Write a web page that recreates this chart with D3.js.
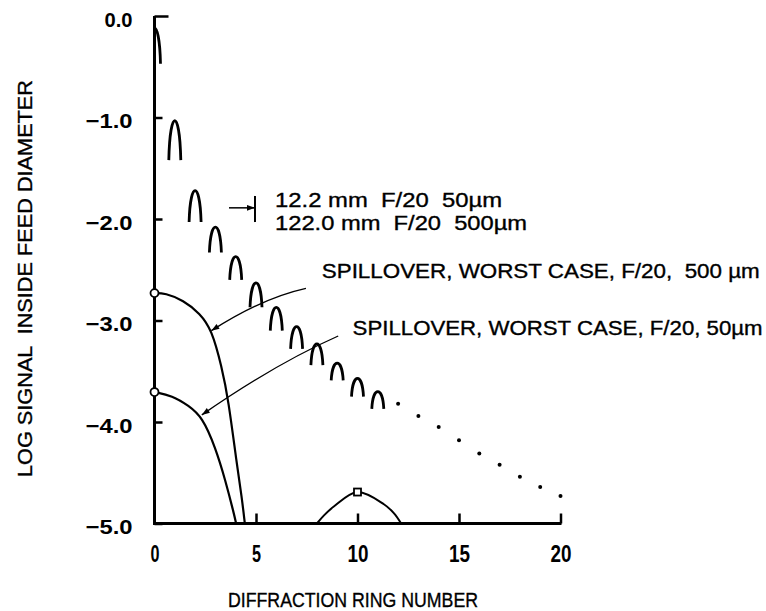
<!DOCTYPE html>
<html>
<head>
<meta charset="utf-8">
<script src="https://cdn.jsdelivr.net/npm/d3@7"></script>
<style>
  body { margin: 0; background: #fff; }
  svg { display: block; }
  .tick text { font-family: "Liberation Sans Narrow", "Liberation Sans", sans-serif; font-weight: bold; fill: #000; }
  .note { font-family: "Liberation Sans", Arial, sans-serif; fill: #000; stroke: #000; stroke-width: 0.35; white-space: pre; }
</style>
</head>
<body>
<svg width="766" height="611"></svg>
<script>
// diffraction ring peaks (drawn as little arches)
var ringNumbers = [0, 1, 2, 3, 4, 5, 6, 7, 8, 9, 10, 11]
var ringPeaks = [-0.12, -1.03, -1.72, -2.08, -2.37, -2.63, -2.87, -3.06, -3.23, -3.42, -3.57, -3.70]
var ringDepths = [0.35, 0.39, 0.31, 0.25, 0.23, 0.24, 0.23, 0.22, 0.21, 0.17, 0.18, 0.17]

// continuation shown as dots
var dotRings = [12, 13, 14, 15, 16, 17, 18, 19, 20]
var dotValues = [-3.82, -3.94, -4.05, -4.18, -4.31, -4.42, -4.54, -4.64, -4.73]

// spillover curves
var spill500X = [0, 0.52, 1.42, 2.24, 2.82, 3.31, 3.64, 4.05, 4.30, 4.45]
var spill500Y = [-2.73, -2.73, -2.80, -2.93, -3.09, -3.455, -3.78, -4.41, -4.74, -5.0]
var spill50X = [0, 0.87, 1.69, 2.35, 3.0, 3.5, 3.91, 4.02]
var spill50Y = [-3.705, -3.74, -3.84, -3.95, -4.25, -4.58, -4.90, -5.0]

// side lobe near the floor
var lobeX = [8, 8.35, 8.85, 10, 11.3, 11.8, 12.15]
var lobeY = [-5, -4.92, -4.83, -4.69, -4.81, -4.90, -5]

var xTicks = [0, 5, 10, 15, 20]
var yTicks = [0, -1, -2, -3, -4, -5]

var svg = d3.select("svg")

var x = d3.scaleLinear().domain([0, 20]).range([154.5, 560.5])
var y = d3.scaleLinear().domain([-5, 0]).range([523.5, 16])

svg.append("defs").append("clipPath").attr("id", "plotclip")
  .append("rect").attr("x", x(0)).attr("y", 0).attr("width", 600).attr("height", 611)

var arrow = svg.select("defs").append("marker")
  .attr("id", "arrow")
  .attr("markerUnits", "userSpaceOnUse")
  .attr("viewBox", "0 0 10 10")
  .attr("refX", 10).attr("refY", 5)
  .attr("markerWidth", 10).attr("markerHeight", 8)
  .attr("orient", "auto")
arrow.append("path").attr("d", "M0,1.5 L10,5 L0,8.5 Z").attr("fill", "#000")

// axes
var yAxis = d3.axisLeft(y)
  .tickValues(yTicks)
  .tickFormat(d3.format(".1f"))
  .tickSize(-8)
  .tickPadding(22)

var gy = svg.append("g").attr("transform", "translate(" + x(0) + ",0)").call(yAxis)
gy.select(".domain").remove()
gy.selectAll(".tick line").attr("stroke", "#000").attr("stroke-width", 2.5)
  .attr("x2", function(d) { return d === 0 ? 14 : 8 })
gy.selectAll(".tick text")
  .attr("font-size", 20)
  .attr("dy", "0.5em")
  .attr("textLength", function(d) { return d === 0 ? 28 : 47 })
  .attr("lengthAdjust", "spacingAndGlyphs")

var xAxis = d3.axisBottom(x)
  .tickValues(xTicks)
  .tickFormat(d3.format("d"))
  .tickSize(-10)
  .tickPadding(22)

var gx = svg.append("g").attr("transform", "translate(0," + y(-5) + ")").call(xAxis)
gx.select(".domain").remove()
gx.selectAll(".tick line").attr("stroke", "#000").attr("stroke-width", 2.5)
  .attr("display", function(d) { return d === 0 ? "none" : null })
gx.selectAll(".tick text")
  .attr("font-size", 23)
  .attr("textLength", function(d) { return d < 10 ? 9 : 21 })
  .attr("lengthAdjust", "spacingAndGlyphs")

svg.append("line")
  .attr("x1", x(0)).attr("x2", x(0)).attr("y1", y(0)).attr("y2", y(-5) + 1.5)
  .attr("stroke", "#000").attr("stroke-width", 3)
svg.append("line")
  .attr("x1", x(0) - 1.5).attr("x2", x(20) + 1).attr("y1", y(-5)).attr("y2", y(-5))
  .attr("stroke", "#000").attr("stroke-width", 3)

// axis titles
svg.append("text").attr("class", "note")
  .attr("x", 353).attr("y", 607)
  .attr("text-anchor", "middle")
  .attr("font-size", 20)
  .attr("textLength", 250).attr("lengthAdjust", "spacingAndGlyphs")
  .text("DIFFRACTION RING NUMBER")

svg.append("text").attr("class", "note")
  .attr("transform", "translate(32,278.5) rotate(-90)")
  .attr("text-anchor", "middle")
  .attr("font-size", 21)
  .attr("textLength", 397).attr("lengthAdjust", "spacingAndGlyphs")
  .text("LOG SIGNAL  INSIDE FEED DIAMETER")

// ring arches
var hw = 6
svg.append("g").attr("clip-path", "url(#plotclip)")
  .selectAll("path")
  .data(ringNumbers)
  .enter().append("path")
  .attr("d", function(n, i) {
    var cx = x(n), top = y(ringPeaks[i]), bot = y(ringPeaks[i] - ringDepths[i])
    var c = top - (bot - top) / 3
    return "M" + (cx - hw) + "," + bot +
      "C" + (cx - hw * 0.8) + "," + c + " " + (cx + hw * 0.8) + "," + c + " " + (cx + hw) + "," + bot
  })
  .attr("fill", "none").attr("stroke", "#000").attr("stroke-width", 2.8)

svg.append("g").selectAll("circle")
  .data(dotRings)
  .enter().append("circle")
  .attr("cx", function(d) { return x(d) })
  .attr("cy", function(d, i) { return y(dotValues[i]) })
  .attr("r", 2)
  .attr("fill", "#000")

// spillover curves
var line = d3.line()
  .x(function(d) { return x(d[0]) })
  .y(function(d) { return y(d[1]) })
  .curve(d3.curveBasis)

svg.append("path")
  .attr("d", line(d3.zip(spill500X, spill500Y)))
  .attr("fill", "none").attr("stroke", "#000").attr("stroke-width", 2.2)
svg.append("path")
  .attr("d", line(d3.zip(spill50X, spill50Y)))
  .attr("fill", "none").attr("stroke", "#000").attr("stroke-width", 2.2)
svg.append("path")
  .attr("d", line.curve(d3.curveCatmullRom.alpha(0.5))(d3.zip(lobeX, lobeY)))
  .attr("fill", "none").attr("stroke", "#000").attr("stroke-width", 2)

svg.selectAll(".start")
  .data([spill500Y[0], spill50Y[0]])
  .enter().append("circle")
  .attr("cx", x(0)).attr("cy", function(d) { return y(d) })
  .attr("r", 4)
  .attr("fill", "#fff").attr("stroke", "#000").attr("stroke-width", 1.8)

svg.append("rect")
  .attr("x", x(10) - 3.5).attr("y", y(-4.69) - 3.5)
  .attr("width", 7).attr("height", 7)
  .attr("fill", "#fff").attr("stroke", "#000").attr("stroke-width", 1.8)

// annotations
function leader(sx, sy, cx, cy, tx, ty) {
  svg.append("path")
    .attr("d", "M" + x(sx) + "," + y(sy) + "Q" + x(cx) + "," + y(cy) + " " + x(tx) + "," + y(ty))
    .attr("fill", "none").attr("stroke", "#000").attr("stroke-width", 1.3)
    .attr("marker-end", "url(#arrow)")
}
leader(7.46, -2.683, 5.30, -2.778, 2.80, -3.10)
leader(9.05, -3.153, 5.94, -3.428, 2.33, -3.93)

svg.append("line")
  .attr("x1", x(3.67)).attr("x2", x(4.95)).attr("y1", y(-1.89)).attr("y2", y(-1.89))
  .attr("stroke", "#000").attr("stroke-width", 1.5)
  .attr("marker-end", "url(#arrow)")
svg.append("line")
  .attr("x1", x(4.95)).attr("x2", x(4.95)).attr("y1", y(-1.773)).attr("y2", y(-2.03))
  .attr("stroke", "#000").attr("stroke-width", 2)

function note(tx, ty, len, size, txt) {
  svg.append("text").attr("class", "note")
    .attr("x", x(tx)).attr("y", y(ty))
    .attr("font-size", size)
    .attr("textLength", len).attr("lengthAdjust", "spacingAndGlyphs")
    .text(txt)
}
note(5.94, -1.877, 227, 20, "12.2 mm  F/20  50µm")
note(5.94, -2.108, 252, 20, "122.0 mm  F/20  500µm")
note(8.24, -2.58, 438, 20, "SPILLOVER, WORST CASE, F/20,  500 µm")
note(9.76, -3.143, 410, 20, "SPILLOVER, WORST CASE, F/20, 50µm")
</script>
</body>
</html>
